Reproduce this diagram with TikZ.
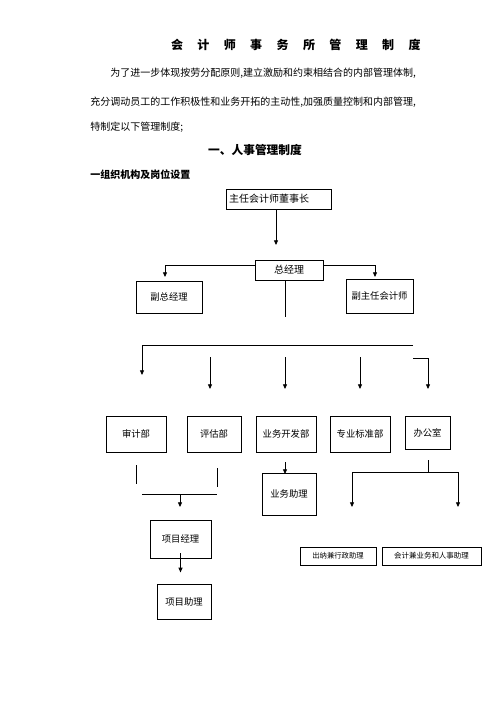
\documentclass[tikz,border=0pt]{standalone}
\usepackage{fontspec}
\setmainfont{Noto Sans CJK SC}
\usetikzlibrary{arrows.meta}
\begin{document}
\begin{tikzpicture}[x=0.75pt,y=-0.75pt,
    box/.style 2 args={draw,line width=0.6pt,inner sep=0pt,minimum width=#1*0.75pt,minimum height=#2*0.75pt,font=\fontsize{7}{8}\selectfont},
    arr/.style={-{Triangle[length=3.5pt,width=3pt]},line width=0.6pt},
    ln/.style={line width=0.6pt},
    txt/.style={anchor=west,inner sep=0pt,font=\fontsize{7.5}{9}\selectfont}]
    \useasboundingbox[fill=white] (0,0) rectangle (496,702);
    % heading text
    \foreach \c [count=\i] in {会,计,师,事,务,所,管,理,制,度}
      \node[inner sep=0pt,font=\fontsize{9}{10}\selectfont\bfseries] (t\i) at ({177+(\i-1)*26.4},45) {\c};
    \node[txt] (p1) at (110,73) {为了进一步体现按劳分配原则,建立激励和约束相结合的内部管理体制,};
    \node[txt] (p2) at (90,102) {充分调动员工的工作积极性和业务开拓的主动性,加强质量控制和内部管理,};
    \node[txt] (p3) at (90,127) {特制定以下管理制度;};
    \node[inner sep=0pt,font=\fontsize{8.8}{10}\selectfont\bfseries] (sec) at (255,150) {一、人事管理制度};
    \node[txt,font=\fontsize{7.5}{9}\selectfont\bfseries] (sub) at (90,175) {一组织机构及岗位设置};

    % boxes
    \node[box={105}{20},align=left,text width=99*0.75pt,inner xsep=3*0.75pt,font=\fontsize{7.5}{9}\selectfont] (chair) at (278.5,199) {主任会计师董事长};
    \node[box={68}{20},font=\fontsize{7.5}{9}\selectfont] (gm) at (289,270) {总经理};
    \node[box={66}{32}] (vgm) at (169,297) {副总经理};
    \node[box={67}{34}] (vcpa) at (379.5,296) {副主任会计师};
    \node[box={60}{36}] (audit) at (136,434) {审计部};
    \node[box={54}{36}] (eval) at (214,434) {评估部};
    \node[box={60}{36}] (biz) at (286,434) {业务开发部};
    \node[box={60}{36}] (std) at (360,434) {专业标准部};
    \node[box={45}{33}] (office) at (427.5,432.5) {办公室};
    \node[box={54}{42}] (bizasst) at (289,494) {业务助理};
    \node[box={61}{38}] (pm) at (180.5,539) {项目经理};
    \node[box={54}{35}] (pa) at (184,601.5) {项目助理};
    \node[box={76}{18},font=\fontsize{5.5}{6}\selectfont] (cashier) at (338,556) {出纳兼行政助理};
    \node[box={99}{18},font=\fontsize{5.6}{6}\selectfont] (acct) at (431.5,556) {会计兼业务和人事助理};

    % connectors
    \coordinate (c1) at (276,245);
    \draw[arr] (chair.south -| c1) -- (c1);
    \coordinate (gl) at (165,277);
    \coordinate (gr) at (375,277);
    \draw[arr] ([yshift=3.75pt]gm.west) -| (gl);
    \draw[arr] ([yshift=3.75pt]gm.east) -| (gr);
    \coordinate (g1) at (285,317);
    \draw[ln] (gm.south -| g1) -- (g1);

    \coordinate (h1) at (413,345);
    \coordinate (h2) at (142,375);
    \draw[arr] (h1) -| (h2);
    \foreach \n/\x in {eval/210,biz/285,std/360} {
      \coordinate (\n t) at (\x,357);
      \coordinate (\n b) at (\x,389);
      \draw[arr] (\n t) -- (\n b);
    }
    \coordinate (o1) at (413,358);
    \coordinate (o2) at (428,389);
    \draw[arr] (o1) -| (o2);

    \draw[ln] (136,465) coordinate (a1) -- (136,484);
    \draw[ln] (217,468) coordinate (a2) -- (217,487);
    \coordinate (j1) at (180,494);
    \draw[ln] (142,494) -- (217,494);
    \draw[arr] (j1) -- (180,507);
    \draw[arr] ([yshift=3.75pt]pm.south) -- ++(0,19);
    \coordinate (b1) at (285,462);
    \draw[arr] (b1) -- (285,474);

    \coordinate (k1) at (428,460);
    \coordinate (k2) at (428,472);
    \draw[ln] (k1) -- (k2);
    \draw[arr] (k2) -| (352,507);
    \draw[arr] (k2) -| (458,507);
\end{tikzpicture}
\end{document}
